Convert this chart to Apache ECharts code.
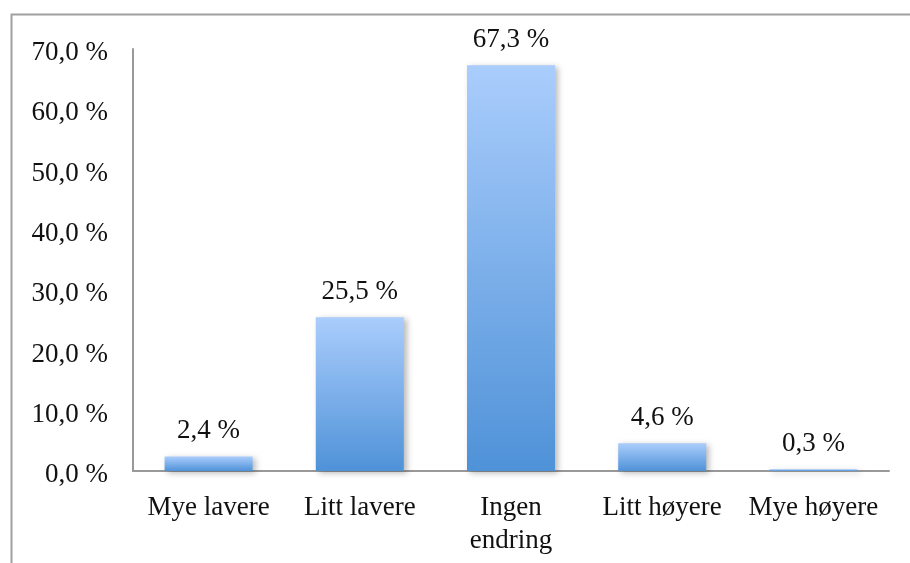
<!DOCTYPE html>
<html>
<head>
<meta charset="utf-8">
<script src="https://cdn.jsdelivr.net/npm/echarts@6/dist/echarts.min.js"></script>
<style>
  html, body { margin: 0; padding: 0; background: #ffffff; }
  #chart { width: 910px; height: 563px; }
</style>
</head>
<body>
<div id="chart"></div>
<script>
// Categories and shares (percent)
const categories = ['Mye lavere', 'Litt lavere', 'Ingen\nendring', 'Litt høyere', 'Mye høyere'];
const shares = [2.4, 25.5, 67.3, 4.6, 0.3];
const yTicks = [0, 10, 20, 30, 40, 50, 60, 70];

const fontFamily = '"Liberation Serif", "DejaVu Serif", serif';
const fmtPct = v => v.toFixed(1).replace('.', ',') + ' %';

const chart = echarts.init(document.getElementById('chart'), null, { renderer: 'canvas' });

chart.setOption({
  animation: false,
  backgroundColor: '#ffffff',
  graphic: [{
    type: 'rect',
    shape: { x: 11.5, y: 14.5, width: 1000, height: 1000 },
    style: { fill: 'none', stroke: '#a0a0a0', lineWidth: 2 },
    silent: true
  }],
  grid: { left: 133, right: 21, top: 49, bottom: 92, containLabel: false },
  xAxis: {
    type: 'category',
    data: categories,
    axisLine: { show: true, lineStyle: { color: '#999999', width: 2 } },
    axisTick: { show: false },
    axisLabel: {
      color: '#111111',
      fontFamily: fontFamily,
      fontSize: 27,
      lineHeight: 33,
      margin: 20,
      interval: 0
    }
  },
  yAxis: {
    type: 'value',
    min: yTicks[0],
    max: yTicks[yTicks.length - 1],
    interval: 10,
    axisLine: { show: true, lineStyle: { color: '#999999', width: 2 } },
    axisTick: { show: false },
    splitLine: { show: false },
    axisLabel: {
      margin: 25,
      formatter: v => '{t|' + fmtPct(v) + '}',
      rich: {
        t: {
          color: '#111111',
          fontFamily: fontFamily,
          fontSize: 27,
          padding: [8, 0, 0, 0]
        }
      }
    }
  },
  series: [{
    type: 'bar',
    data: shares,
    barWidth: 88,
    itemStyle: {
      color: new echarts.graphic.LinearGradient(0, 0, 0, 1, [
        { offset: 0, color: '#aacdfc' },
        { offset: 1, color: '#4f92d8' }
      ]),
      shadowColor: 'rgba(0,0,0,0.28)',
      shadowBlur: 6,
      shadowOffsetX: 3,
      shadowOffsetY: 2
    },
    label: {
      show: true,
      position: 'top',
      distance: 12,
      color: '#111111',
      fontFamily: fontFamily,
      fontSize: 27,
      formatter: p => fmtPct(p.value)
    }
  }]
});
</script>
</body>
</html>
